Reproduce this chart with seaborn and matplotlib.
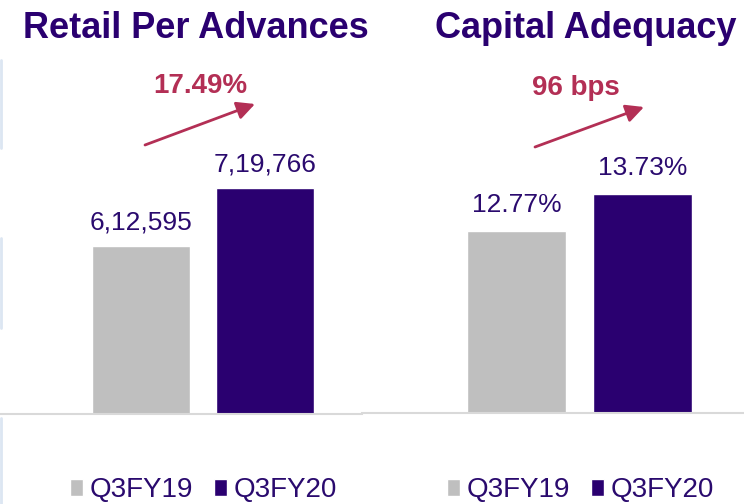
import numpy as np
import pandas as pd
import matplotlib
matplotlib.use("Agg")
import matplotlib.pyplot as plt
from matplotlib.lines import Line2D
import seaborn as sns

periods = ["Q3FY19", "Q3FY20"]
retail_vals = [612595, 719766]
retail_labels = ["6,12,595", "7,19,766"]
car_vals = [12.77, 13.73]
car_labels = ["12.77%", "13.73%"]
titles = ["Retail Per Advances", "Capital Adequacy"]
growth_labels = ["17.49%", "96 bps"]

GREY = "#BFBFBF"
PURPLE = "#2A0070"
TXT = "#2A0A6E"
RED = "#B32F55"

sns.set_theme(style="white")
plt.rcParams["font.family"] = ["Liberation Sans", "DejaVu Sans"]

W, H = 744, 504
fig = plt.figure(figsize=(W / 100, H / 100), dpi=100)

# axes placed in pixel terms
ax1 = fig.add_axes([0 / W, 1 - 414 / H, 362 / W, 414 / H])
ax2 = fig.add_axes([362 / W, 1 - 413 / H, 382 / W, 413 / H])

df1 = pd.DataFrame({"period": periods, "value": retail_vals})
df2 = pd.DataFrame({"period": periods, "value": car_vals})
pal = dict(zip(periods, [GREY, PURPLE]))

sns.barplot(data=df1, x="period", y="value", hue="period", palette=pal,
            width=0.79, saturation=1, ax=ax1, legend=True)
sns.barplot(data=df2, x="period", y="value", hue="period", palette=pal,
            width=0.79, saturation=1, ax=ax2, legend=True)

ax1.set_xlim(-1.137, 1.782)
ax1.set_ylim(302700, 1066500)
ax2.set_xlim(-1.226, 1.806)
ax2.set_ylim(8.05, 18.75)

for ax, labs, pad in [(ax1, retail_labels, 8), (ax2, car_labels, 10)]:
    for i, cont in enumerate(ax.containers):
        ax.bar_label(cont, labels=[labs[i]], padding=pad, fontsize=19, color=TXT)
    ax.set_xticks([])
    ax.set_yticks([])
    ax.set_xlabel("")
    ax.set_ylabel("")
    for s in ["top", "left", "right"]:
        ax.spines[s].set_visible(False)
    ax.spines["bottom"].set_color("#D9D9D9")
    ax.spines["bottom"].set_linewidth(1.5)
    ax.patch.set_alpha(0)

# legends along the bottom edge
for ax, x0 in [(ax1, 70), (ax2, 447)]:
    h, l = ax.get_legend_handles_labels()
    ax.get_legend().remove()
    leg = fig.legend(h, l, loc="upper left", ncol=2, frameon=False,
                     bbox_to_anchor=(x0 / W, 1 - 477 / H),
                     bbox_transform=fig.transFigure,
                     fontsize=20, handlelength=0.47, handleheight=0.55,
                     handletextpad=0.22, columnspacing=0.78, borderpad=0,
                     borderaxespad=0)
    for t in leg.get_texts():
        t.set_color(TXT)

# titles
fig.text(196 / W, 1 - 28 / H, titles[0], ha="center", va="center",
         fontsize=26, fontweight="bold", color=PURPLE)
fig.text(586 / W, 1 - 28 / H, titles[1], ha="center", va="center",
         fontsize=26, fontweight="bold", color=PURPLE)

# growth arrows
arrows = [((145, 145), (255, 104), (200, 86)), ((535, 147), (644, 107), (576, 88))]
for (tail, tip, tpos), lab in zip(arrows, growth_labels):
    fig.add_artist(plt.Annotation(
        "", xy=(tip[0], H - tip[1]), xytext=(tail[0], H - tail[1]),
        xycoords="figure pixels", textcoords="figure pixels",
        arrowprops=dict(arrowstyle="-|>,head_length=0.9,head_width=0.45",
                        color=RED, lw=2, shrinkA=0, shrinkB=0)))
    fig.text(tpos[0] / W, 1 - tpos[1] / H, lab, ha="center", va="center",
             fontsize=20, fontweight="bold", color=RED)

# faint left border segments
for y0, y1 in [(60, 148), (238, 328), (418, 504)]:
    fig.add_artist(Line2D([1 / W, 1 / W], [1 - y0 / H, 1 - y1 / H],
                          transform=fig.transFigure, color="#DCE6F2", lw=2))

fig.savefig("out.png", dpi=100)
